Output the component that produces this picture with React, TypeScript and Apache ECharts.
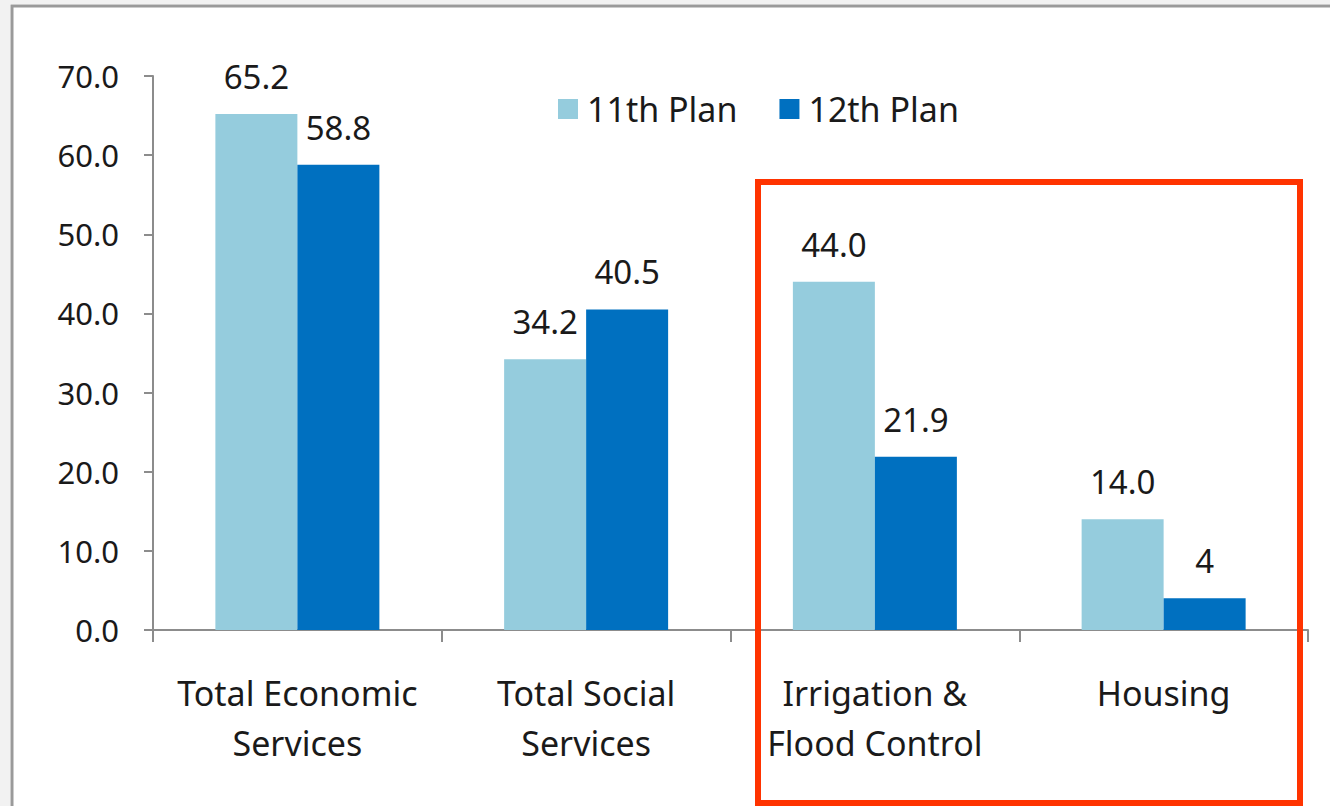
import React, { useEffect, useRef } from "react";
import * as echarts from "echarts";

const categories = [
  "Total Economic\nServices",
  "Total Social\nServices",
  "Irrigation &\nFlood Control",
  "Housing",
];
const plan11 = [65.2, 34.2, 44.0, 14.0];
const plan12 = [58.8, 40.5, 21.9, 4];
const plan11Labels = ["65.2", "34.2", "44.0", "14.0"];
const plan12Labels = ["58.8", "40.5", "21.9", "4"];
const seriesNames = ["11th Plan", "12th Plan"];

const FONT = "'Noto Sans', 'Open Sans', sans-serif";
const TEXT = "#1a1a1a";

export default function App() {
  const ref = useRef<HTMLDivElement>(null);
  useEffect(() => {
    document.body.style.margin = "0";
    const chart = echarts.init(ref.current!, null, { renderer: "svg" });
    const labelStyle = {
      show: true,
      position: "top" as const,
      distance: 21,
      fontFamily: FONT,
      fontSize: 33,
      color: TEXT,
    };
    chart.setOption({
      animation: false,
      backgroundColor: "#ffffff",
      textStyle: { fontFamily: FONT },
      legend: {
        data: seriesNames,
        left: 553,
        top: 87,
        itemWidth: 20,
        itemHeight: 20,
        itemGap: 42,
        icon: "rect",
        textStyle: { fontFamily: FONT, fontSize: 34, color: TEXT, padding: [0, 0, 0, 4] },
      },
      grid: { left: 153, right: 22, top: 76, bottom: 176 },
      xAxis: {
        type: "category",
        data: categories,
        axisLine: { lineStyle: { color: "#8c8c8c", width: 2 } },
        axisTick: { show: true, length: 12, lineStyle: { color: "#8c8c8c", width: 2 } },
        axisLabel: {
          fontFamily: FONT,
          fontSize: 34,
          color: TEXT,
          lineHeight: 50,
          margin: 38,
          interval: 0,
        },
      },
      yAxis: {
        type: "value",
        min: 0,
        max: 70,
        interval: 10,
        splitLine: { show: false },
        axisLine: { show: true, lineStyle: { color: "#8c8c8c", width: 2 } },
        axisTick: { show: true, length: 9, lineStyle: { color: "#8c8c8c", width: 2 } },
        axisLabel: {
          fontFamily: FONT,
          fontSize: 31,
          color: TEXT,
          margin: 34,
          formatter: (v: number) => v.toFixed(1),
        },
      },
      series: [
        {
          name: seriesNames[0],
          type: "bar",
          data: plan11,
          barWidth: 82,
          barGap: "0%",
          itemStyle: { color: "#95CCDD" },
          label: { ...labelStyle, formatter: (p: any) => plan11Labels[p.dataIndex] },
        },
        {
          name: seriesNames[1],
          type: "bar",
          data: plan12,
          barWidth: 82,
          barGap: "0%",
          itemStyle: { color: "#0070C0" },
          label: { ...labelStyle, formatter: (p: any) => plan12Labels[p.dataIndex] },
        },
      ],
      graphic: [
        { type: "rect", z: 100, shape: { x: 0, y: 0, width: 10, height: 806 }, style: { fill: "#f2f2f2" } },
        { type: "rect", z: 100, shape: { x: 0, y: 0, width: 1330, height: 4 }, style: { fill: "#f2f2f2" } },
        {
          type: "polyline",
          z: 100,
          shape: { points: [[12, 806], [12, 6], [1330, 6]] },
          style: { stroke: "#9a9a9a", lineWidth: 3, fill: "none" },
        },
        {
          type: "rect",
          z: 100,
          shape: { x: 758, y: 182, width: 542, height: 621 },
          style: { stroke: "#FF3300", lineWidth: 6, fill: "none" },
        },
      ],
    });
    return () => chart.dispose();
  }, []);
  return <div ref={ref} style={{ width: 1330, height: 806 }} />;
}
